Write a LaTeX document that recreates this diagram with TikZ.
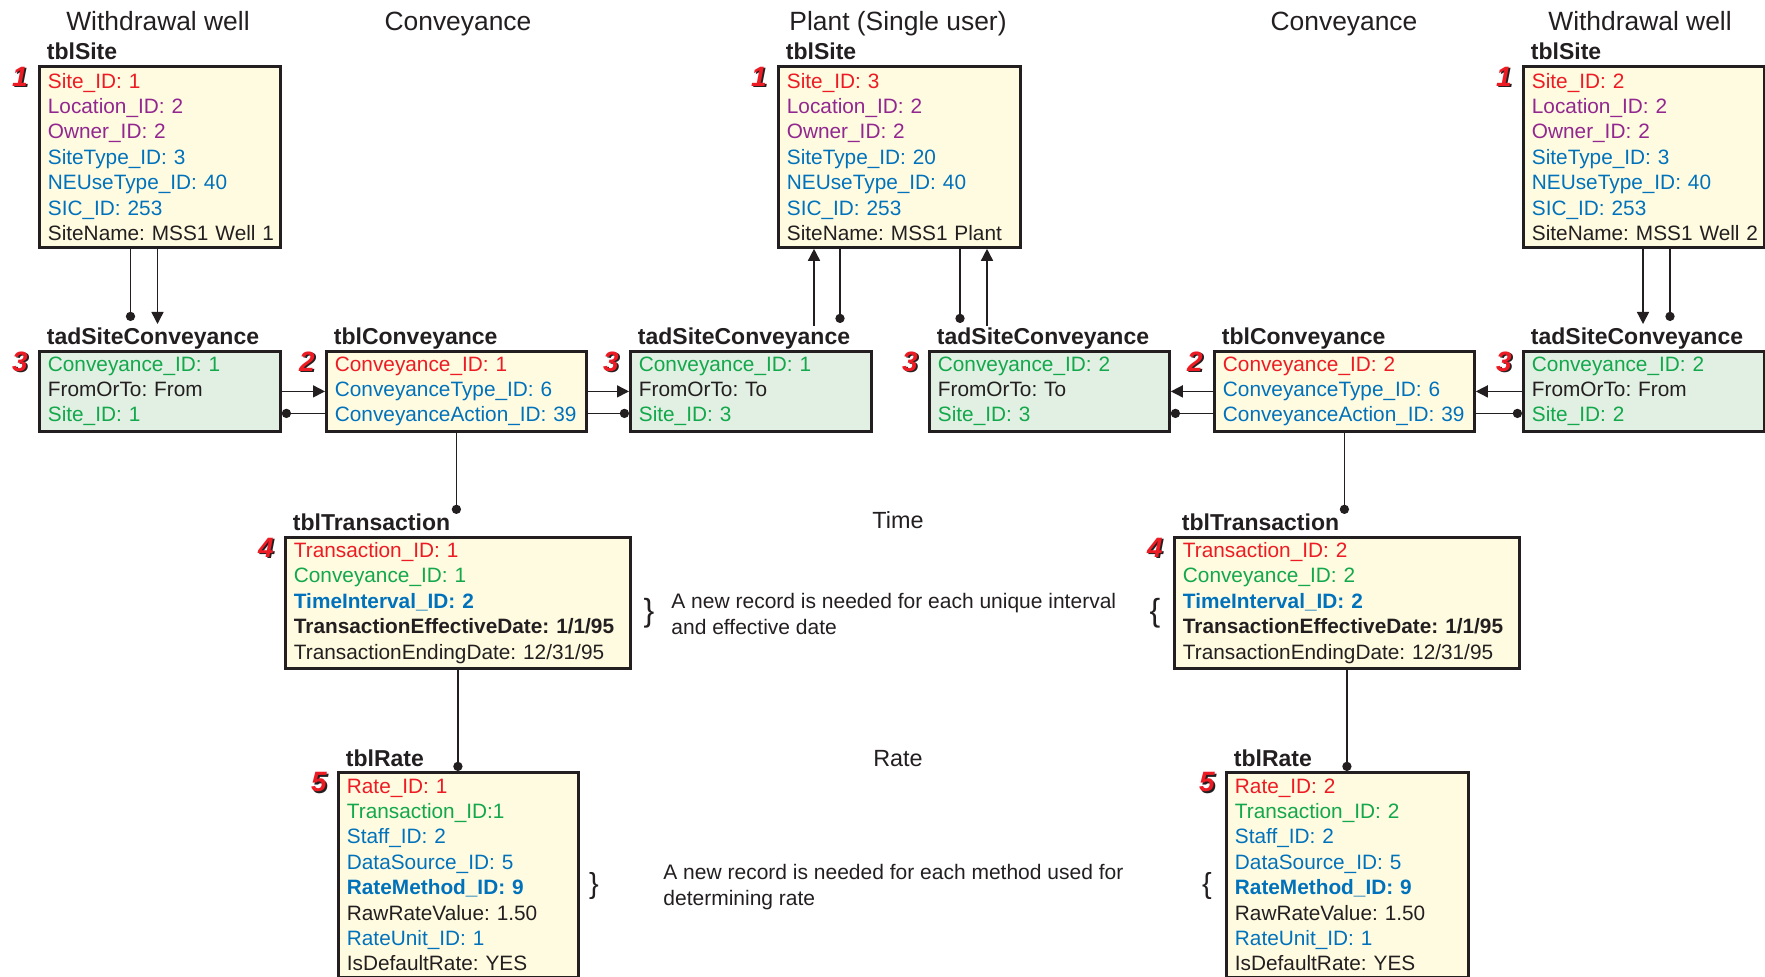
\documentclass[tikz,border=0pt]{standalone}
\usepackage{fontspec}
\setmainfont{Liberation Sans}
\usetikzlibrary{arrows.meta}
\frenchspacing
\definecolor{KeyRed}{HTML}{ED1C24}
\definecolor{KeyPurple}{HTML}{92278F}
\definecolor{KeyBlue}{HTML}{0072BC}
\definecolor{KeyGreen}{HTML}{12A84B}
\definecolor{Ink}{HTML}{231F20}
\definecolor{SiteFill}{HTML}{FFFBE0}
\definecolor{LinkFill}{HTML}{E2EFE3}
\newcommand{\cred}[1]{\mbox{\color{KeyRed}#1}}
\newcommand{\cpur}[1]{\mbox{\color{KeyPurple}#1}}
\newcommand{\cblu}[1]{\mbox{\color{KeyBlue}#1}}
\newcommand{\cgrn}[1]{\mbox{\color{KeyGreen}#1}}
\newcommand{\cblk}[1]{\mbox{\color{Ink}#1}}
\newcommand{\tagnum}[1]{\rlap{\color{Ink}\kern0.8pt\raisebox{-0.6pt}{#1}}#1}

\begin{document}
\begin{tikzpicture}[x=0.5pt, y=-0.5pt,
    tbl/.style={draw=Ink, line width=1.4pt, anchor=north west, inner xsep=4.25pt, inner ysep=0pt, align=left, text=Ink, font=\fontsize{10.4}{12.7}\selectfont},
    sitebox/.style={tbl, fill=SiteFill},
    linkbox/.style={tbl, fill=LinkFill},
    tblname/.style={anchor=base west, inner sep=0pt, text=Ink, font=\bfseries\fontsize{11.5}{13}\selectfont},
    tagno/.style={inner sep=0pt, text=KeyRed, font=\bfseries\itshape\fontsize{14}{14}\selectfont},
    head/.style={anchor=base, inner sep=0pt, text=Ink, font=\fontsize{13.2}{15}\selectfont},
    midhead/.style={anchor=base, inner sep=0pt, text=Ink, font=\fontsize{11.7}{14}\selectfont},
    note/.style={anchor=west, align=left, inner sep=0pt, text=Ink, font=\fontsize{10.5}{13}\selectfont},
    brace/.style={inner sep=0pt, text=Ink, font=\fontsize{16}{16}\selectfont},
    link/.style={draw=Ink, line width=0.75pt},
    toarr/.style={link, -{Triangle[length=6pt,width=6pt]}},
    todot/.style={link, -{Circle[length=4.6pt]}}]
  \useasboundingbox (0,0) rectangle (1765,977);

  % column headings
  \node[head] (hw1) at (158,30.5) {Withdrawal well};
  \node[head] (hc1) at (458,30.5) {Conveyance};
  \node[head] (hp) at (898,30.5) {Plant (Single user)};
  \node[head] (hc2) at (1344,30.5) {Conveyance};
  \node[head] (hw2) at (1640,30.5) {Withdrawal well};
  \node[midhead] (htime) at (898,529) {Time};
  \node[midhead] (hrate) at (898,766) {Rate};

  % sites
  \node[sitebox, text width=112pt, minimum height=90.5pt] (S1) at (38,65) {\cred{Site\_ID: 1}\\\cpur{Location\_ID: 2}\\\cpur{Owner\_ID: 2}\\\cblu{SiteType\_ID: 3}\\\cblu{NEUseType\_ID: 40}\\\cblu{SIC\_ID: 253}\\\cblk{SiteName: MSS1 Well 1}};
  \node[sitebox, text width=112.5pt, minimum height=90.5pt] (S3) at (777,65) {\cred{Site\_ID: 3}\\\cpur{Location\_ID: 2}\\\cpur{Owner\_ID: 2}\\\cblu{SiteType\_ID: 20}\\\cblu{NEUseType\_ID: 40}\\\cblu{SIC\_ID: 253}\\\cblk{SiteName: MSS1 Plant}};
  \node[sitebox, text width=112pt, minimum height=90.5pt] (S2) at (1522,65) {\cred{Site\_ID: 2}\\\cpur{Location\_ID: 2}\\\cpur{Owner\_ID: 2}\\\cblu{SiteType\_ID: 3}\\\cblu{NEUseType\_ID: 40}\\\cblu{SIC\_ID: 253}\\\cblk{SiteName: MSS1 Well 2}};

  % site/conveyance links and conveyances
  \node[linkbox, text width=112pt, minimum height=40pt] (A1) at (38,350) {\cgrn{Conveyance\_ID: 1}\\\cblk{FromOrTo: From}\\\cgrn{Site\_ID: 1}};
  \node[sitebox, text width=121.5pt, minimum height=40pt] (C1) at (325,350) {\cred{Conveyance\_ID: 1}\\\cblu{ConveyanceType\_ID: 6}\\\cblu{ConveyanceAction\_ID: 39}};
  \node[linkbox, text width=112pt, minimum height=40pt] (A2) at (629,350) {\cgrn{Conveyance\_ID: 1}\\\cblk{FromOrTo: To}\\\cgrn{Site\_ID: 3}};
  \node[linkbox, text width=111.5pt, minimum height=40pt] (A3) at (928,350) {\cgrn{Conveyance\_ID: 2}\\\cblk{FromOrTo: To}\\\cgrn{Site\_ID: 3}};
  \node[sitebox, text width=121.5pt, minimum height=40pt] (C2) at (1213,350) {\cred{Conveyance\_ID: 2}\\\cblu{ConveyanceType\_ID: 6}\\\cblu{ConveyanceAction\_ID: 39}};
  \node[linkbox, text width=112pt, minimum height=40pt] (A4) at (1522,350) {\cgrn{Conveyance\_ID: 2}\\\cblk{FromOrTo: From}\\\cgrn{Site\_ID: 2}};

  % transactions
  \node[sitebox, text width=164pt, minimum height=65.5pt] (T1) at (284,536) {\cred{Transaction\_ID: 1}\\\cgrn{Conveyance\_ID: 1}\\\cblu{\bfseries TimeInterval\_ID: 2}\\\cblk{\bfseries TransactionEffectiveDate: 1/1/95}\\\cblk{TransactionEndingDate: 12/31/95}};
  \node[sitebox, text width=164pt, minimum height=65.5pt] (T2) at (1173,536) {\cred{Transaction\_ID: 2}\\\cgrn{Conveyance\_ID: 2}\\\cblu{\bfseries TimeInterval\_ID: 2}\\\cblk{\bfseries TransactionEffectiveDate: 1/1/95}\\\cblk{TransactionEndingDate: 12/31/95}};

  % rates
  \node[sitebox, text width=111.5pt, minimum height=102.5pt] (R1) at (337,771) {\cred{Rate\_ID: 1}\\\cgrn{Transaction\_ID:1}\\\cblu{Staff\_ID: 2}\\\cblu{DataSource\_ID: 5}\\\cblu{\bfseries RateMethod\_ID: 9}\\\cblk{RawRateValue: 1.50}\\\cblu{RateUnit\_ID: 1}\\\cblk{IsDefaultRate: YES}};
  \node[sitebox, text width=112.5pt, minimum height=102.5pt] (R2) at (1225,771) {\cred{Rate\_ID: 2}\\\cgrn{Transaction\_ID: 2}\\\cblu{Staff\_ID: 2}\\\cblu{DataSource\_ID: 5}\\\cblu{\bfseries RateMethod\_ID: 9}\\\cblk{RawRateValue: 1.50}\\\cblu{RateUnit\_ID: 1}\\\cblk{IsDefaultRate: YES}};

  % table names
  \node[tblname] (S1t) at ([xshift=4.25pt,yshift=2.5pt]S1.north west) {tblSite};
  \node[tblname] (S3t) at ([xshift=4.25pt,yshift=2.5pt]S3.north west) {tblSite};
  \node[tblname] (S2t) at ([xshift=4.25pt,yshift=2.5pt]S2.north west) {tblSite};
  \node[tblname] (A1t) at ([xshift=4.25pt,yshift=2.5pt]A1.north west) {tadSiteConveyance};
  \node[tblname] (C1t) at ([xshift=4.25pt,yshift=2.5pt]C1.north west) {tblConveyance};
  \node[tblname] (A2t) at ([xshift=4.25pt,yshift=2.5pt]A2.north west) {tadSiteConveyance};
  \node[tblname] (A3t) at ([xshift=4.25pt,yshift=2.5pt]A3.north west) {tadSiteConveyance};
  \node[tblname] (C2t) at ([xshift=4.25pt,yshift=2.5pt]C2.north west) {tblConveyance};
  \node[tblname] (A4t) at ([xshift=4.25pt,yshift=2.5pt]A4.north west) {tadSiteConveyance};
  \node[tblname] (T1t) at ([xshift=4.25pt,yshift=2.5pt]T1.north west) {tblTransaction};
  \node[tblname] (T2t) at ([xshift=4.25pt,yshift=2.5pt]T2.north west) {tblTransaction};
  \node[tblname] (R1t) at ([xshift=4.25pt,yshift=2.5pt]R1.north west) {tblRate};
  \node[tblname] (R2t) at ([xshift=4.25pt,yshift=2.5pt]R2.north west) {tblRate};

  % step numbers
  \node[tagno] (S1n) at ([xshift=-9pt,yshift=-6pt]S1.north west) {\tagnum{1}};
  \node[tagno] (S3n) at ([xshift=-9pt,yshift=-6pt]S3.north west) {\tagnum{1}};
  \node[tagno] (S2n) at ([xshift=-9pt,yshift=-6pt]S2.north west) {\tagnum{1}};
  \node[tagno] (A1n) at ([xshift=-9pt,yshift=-6pt]A1.north west) {\tagnum{3}};
  \node[tagno] (C1n) at ([xshift=-9pt,yshift=-6pt]C1.north west) {\tagnum{2}};
  \node[tagno] (A2n) at ([xshift=-9pt,yshift=-6pt]A2.north west) {\tagnum{3}};
  \node[tagno] (A3n) at ([xshift=-9pt,yshift=-6pt]A3.north west) {\tagnum{3}};
  \node[tagno] (C2n) at ([xshift=-9pt,yshift=-6pt]C2.north west) {\tagnum{2}};
  \node[tagno] (A4n) at ([xshift=-9pt,yshift=-6pt]A4.north west) {\tagnum{3}};
  \node[tagno] (T1n) at ([xshift=-9pt,yshift=-6pt]T1.north west) {\tagnum{4}};
  \node[tagno] (T2n) at ([xshift=-9pt,yshift=-6pt]T2.north west) {\tagnum{4}};
  \node[tagno] (R1n) at ([xshift=-9pt,yshift=-6pt]R1.north west) {\tagnum{5}};
  \node[tagno] (R2n) at ([xshift=-9pt,yshift=-6pt]R2.north west) {\tagnum{5}};

  % notes
  \node[brace] (b1) at (649,613) {\}};
  \node[note] (n1) at (671,614) {A new record is needed for each unique interval\\and effective date};
  \node[brace] (b2) at (1155,613) {\{};
  \node[brace, font=\fontsize{14.5}{15}\selectfont] (b3) at (594,886) {\}};
  \node[note] (n2) at (663,887) {A new record is needed for each method used for\\determining rate};
  \node[brace, font=\fontsize{14.5}{15}\selectfont] (b4) at (1207,886) {\{};

  % site links
  \coordinate (w1d) at (130.5,321);
  \coordinate (w1a) at (157.5,324);
  \coordinate (p1a) at (814,326);
  \coordinate (p1d) at (840,323);
  \coordinate (p2d) at (960,323);
  \coordinate (p2a) at (987,326);
  \coordinate (w2a) at (1643,324);
  \coordinate (w2d) at (1670,321);
  \draw[todot] (S1.south -| w1d) -- (w1d);
  \draw[toarr] (S1.south -| w1a) -- (w1a);
  \draw[toarr] (p1a) -- (S3.south -| p1a);
  \draw[todot] (S3.south -| p1d) -- (p1d);
  \draw[todot] (S3.south -| p2d) -- (p2d);
  \draw[toarr] (p2a) -- (S3.south -| p2a);
  \draw[toarr] (S2.south -| w2a) -- (w2a);
  \draw[todot] (S2.south -| w2d) -- (w2d);

  % conveyance links
  \draw[toarr] (A1.east) -- (C1.west);
  \draw[todot] ([yshift=-11pt]C1.west) -- ([yshift=-11pt]A1.east);
  \draw[toarr] (C1.east) -- (A2.west);
  \draw[todot] ([yshift=-11pt]C1.east) -- ([yshift=-11pt]A2.west);
  \draw[toarr] (C2.west) -- (A3.east);
  \draw[todot] ([yshift=-11pt]C2.west) -- ([yshift=-11pt]A3.east);
  \draw[toarr] (A4.west) -- (C2.east);
  \draw[todot] ([yshift=-11pt]C2.east) -- ([yshift=-11pt]A4.west);

  % transactions and rates
  \draw[todot] (C1.south) -- (C1.south |- T1t.north);
  \draw[todot] (T1.south) -- (T1.south |- R1.north);
  \draw[todot] (C2.south) -- (C2.south |- T2t.north);
  \draw[todot] (T2.south) -- (T2.south |- R2.north);
\end{tikzpicture}
\end{document}
